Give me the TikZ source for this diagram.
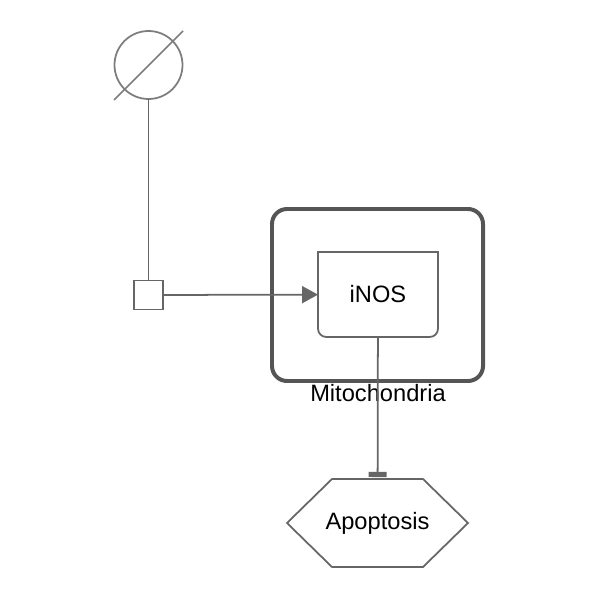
\documentclass[tikz,border=0pt]{standalone}
\usepackage{fontspec}
\setmainfont{Liberation Sans}
\usetikzlibrary{positioning,arrows.meta}
\definecolor{lineGray}{HTML}{666666}
\definecolor{compGray}{HTML}{555555}

\begin{document}
\begin{tikzpicture}[x=0.03cm, y=-0.03cm, line width=1.5pt, draw=lineGray]
\tikzstyle{srcStyle}=[shape = circle, minimum size = 2.04cm, inner sep = 0pt,
outer sep = 0pt, draw=lineGray!85, line width=1.5pt]
\tikzstyle{pStyle}=[shape = rectangle, minimum size = 0.87cm, inner sep = 0pt,
outer sep = 0pt, draw=lineGray, fill=white, line width=1.5pt]
\tikzstyle{eStyle}=[shape = rectangle, inner sep = 0pt, outer sep = 0pt,
draw=none, fill=none, font=\fontsize{20.2}{24}\selectfont]
\tikzset{every node/.style=eStyle}

\useasboundingbox (0,0) rectangle (600,600);

% compartment
\draw[compGray, line width=3.4pt, rounded corners=0.45cm] (272,209) rectangle (483,381);
\draw (378,393) node (mito) {Mitochondria};

% empty set and process
\draw (148.5,65) node[srcStyle] (src) {};
\draw[lineGray!85] (114,100) -- (183,31);
\draw (148.5,295) node[pStyle] (proc) {};
\draw (src) -- (proc);

% iNOS
\draw (378,294.5) node[minimum width=3.6cm, minimum height=2.55cm] (inos) {iNOS};
\draw (inos.south) [rounded corners=0.25cm] -- (inos.south east) [sharp corners]
  -- (inos.north east) -- (inos.north west) [rounded corners=0.25cm]
  -- (inos.south west) -- cycle;

% Apoptosis
\draw (377.5,523) node[minimum width=5.43cm, minimum height=2.64cm] (apop) {Apoptosis};
\draw (287,523) -- (332,479) -- (423,479) -- (468,523) -- (423,567) -- (332,567) -- cycle;

\draw[-{Triangle[length=13.6pt, width=14.5pt]}] (proc) -- (inos);
\draw[-{Rectangle[length=4.3pt, width=15.3pt]}, shorten >=1.7pt] (inos) -- (apop);
\end{tikzpicture}
\end{document}
